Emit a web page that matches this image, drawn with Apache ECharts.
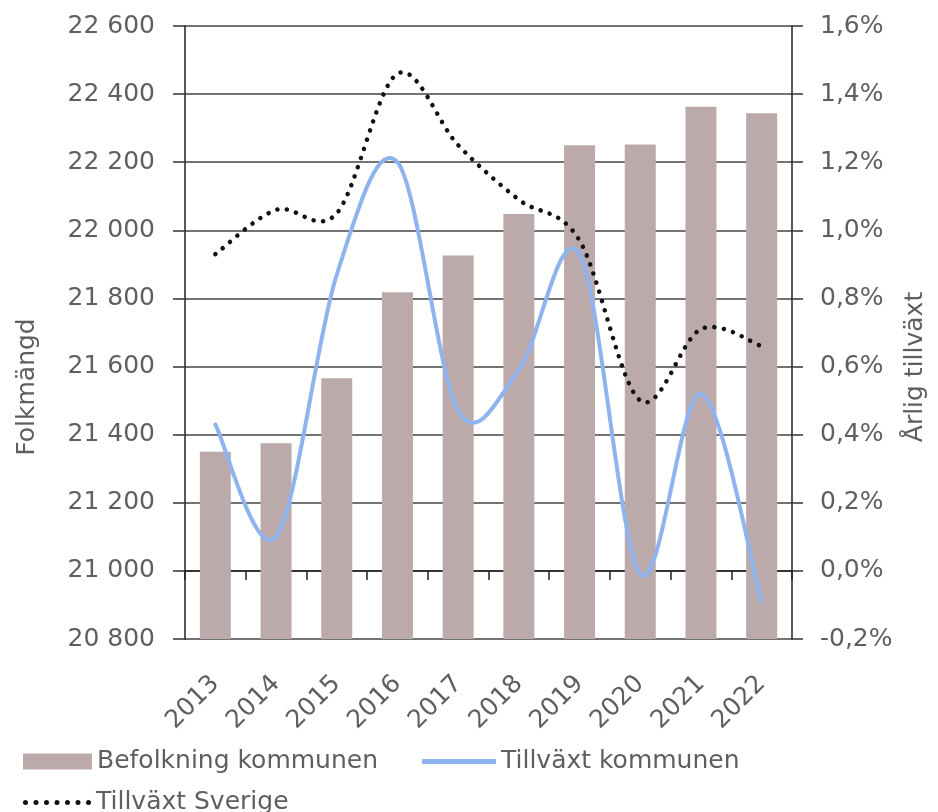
<!DOCTYPE html>
<html>
<head>
<meta charset="utf-8">
<script src="https://cdn.jsdelivr.net/npm/echarts@6/dist/echarts.min.js"></script>
<style>
html,body{margin:0;padding:0;background:#fff;}
#chart{width:938px;height:812px;}
</style>
</head>
<body>
<div id="chart"></div>
<script>
const years = ['2013','2014','2015','2016','2017','2018','2019','2020','2021','2022'];
const befolkning = [21350, 21375, 21566, 21818, 21926, 22048, 22250, 22252, 22363, 22344];
const tillvaxtKommunen = [0.43, 0.10, 0.87, 1.20, 0.47, 0.59, 0.93, -0.01, 0.52, -0.09];
const tillvaxtSverige = [0.93, 1.06, 1.05, 1.46, 1.25, 1.09, 0.97, 0.50, 0.71, 0.66];
const leftName = 'Folkmängd';
const rightName = 'Årlig tillväxt';
const legendNames = ['Befolkning kommunen', 'Tillväxt kommunen', 'Tillväxt Sverige'];

const FONT = 'DejaVu Sans';
const TXT = '#5f5f5f';
const FS = 25;

// Excel-like smoothed line (Catmull-Rom as cubic Bezier), built from points
// mapped through the chart's own axes with api.coord.
function smoothRender(values, styleObj) {
  return function (params, api) {
    if (params.dataIndex !== 0) return;
    const p = values.map((v, i) => api.coord([i, v]));
    const n = p.length;
    let d = 'M' + p[0][0] + ',' + p[0][1];
    for (let i = 0; i < n - 1; i++) {
      const p0 = p[Math.max(i - 1, 0)], p1 = p[i], p2 = p[i + 1], p3 = p[Math.min(i + 2, n - 1)];
      const c1x = p1[0] + (p2[0] - p0[0]) / 6, c1y = p1[1] + (p2[1] - p0[1]) / 6;
      const c2x = p2[0] - (p3[0] - p1[0]) / 6, c2y = p2[1] - (p3[1] - p1[1]) / 6;
      d += ' C' + c1x + ',' + c1y + ' ' + c2x + ',' + c2y + ' ' + p2[0] + ',' + p2[1];
    }
    return {type: 'path', shape: {pathData: d}, style: styleObj};
  };
}

function dotsIcon() {
  let s = 'path://';
  const r = 2.5;
  for (let k = 0; k < 7; k++) {
    const cx = r + 10.5 * k, cy = r;
    s += 'M' + (cx - r) + ',' + cy + 'A' + r + ',' + r + ' 0 1,0 ' + (cx + r) + ',' + cy +
         'A' + r + ',' + r + ' 0 1,0 ' + (cx - r) + ',' + cy + 'Z';
  }
  return s;
}

const legendText = {fontFamily: FONT, fontSize: FS, color: TXT};

const chart = echarts.init(document.getElementById('chart'), null, {renderer: 'canvas'});
chart.setOption({
  backgroundColor: '#fff',
  animation: false,
  textStyle: {fontFamily: FONT},
  grid: {left: 185, right: 146, top: 26, bottom: 173, containLabel: false},
  legend: [
    {data: [{name: legendNames[0], icon: 'rect'}], left: 23, top: 749, padding: 0,
     itemWidth: 69, itemHeight: 16, textStyle: legendText, selectedMode: false},
    {data: [{name: legendNames[1], icon: 'rect'}], left: 422, top: 749, padding: 0,
     itemWidth: 74, itemHeight: 5, textStyle: legendText, selectedMode: false},
    {data: [{name: legendNames[2], icon: dotsIcon()}], left: 23, top: 790, padding: 0,
     itemWidth: 68, itemHeight: 5, textStyle: legendText, selectedMode: false}
  ],
  graphic: [
    {type: 'text', x: 27, y: 387, rotation: Math.PI / 2,
     style: {text: leftName, fontFamily: FONT, fontSize: FS, fill: TXT, textAlign: 'center', textVerticalAlign: 'middle'}},
    {type: 'text', x: 915, y: 367, rotation: Math.PI / 2,
     style: {text: rightName, fontFamily: FONT, fontSize: FS, fill: TXT, textAlign: 'center', textVerticalAlign: 'middle'}}
  ],
  xAxis: {
    type: 'category',
    data: years,
    boundaryGap: true,
    axisLine: {lineStyle: {color: '#222', width: 1.5}},
    axisTick: {show: true, length: 9, lineStyle: {color: '#222', width: 1.5}},
    axisLabel: {rotate: 45, margin: 41, fontFamily: FONT, fontSize: FS, color: TXT, interval: 0}
  },
  yAxis: [
    {
      type: 'value', min: 20800, max: 22600, interval: 200,
      axisLine: {show: true, lineStyle: {color: '#222', width: 1.5}},
      axisTick: {show: true, length: 12, lineStyle: {color: '#333', width: 1.5}},
      splitLine: {show: true, lineStyle: {color: '#444', width: 1.5}},
      axisLabel: {
        margin: 30, fontFamily: FONT, fontSize: FS, color: TXT,
        formatter: v => String(v).replace(/\B(?=(\d{3})+(?!\d))/g, ' ')
      }
    },
    {
      type: 'value', min: -0.2, max: 1.6, interval: 0.2, position: 'right',
      axisLine: {show: true, lineStyle: {color: '#222', width: 1.5}},
      axisTick: {show: true, length: 11, lineStyle: {color: '#333', width: 1.5}},
      splitLine: {show: false},
      axisLabel: {
        margin: 28, fontFamily: FONT, fontSize: FS, color: TXT,
        formatter: v => (Math.round(v * 10) / 10).toFixed(1).replace('.', ',') + '%'
      }
    }
  ],
  series: [
    {
      name: legendNames[0], type: 'bar', yAxisIndex: 0,
      data: befolkning, barWidth: 31, z: 2,
      itemStyle: {color: '#bcaaab'}
    },
    {
      name: legendNames[1], type: 'custom', yAxisIndex: 1, z: 3,
      data: tillvaxtKommunen.map((v, i) => [i, v]),
      itemStyle: {color: '#8db4ee'},
      renderItem: smoothRender(tillvaxtKommunen,
        {fill: null, stroke: '#8db4ee', lineWidth: 4, lineJoin: 'round', lineCap: 'round'})
    },
    {
      name: legendNames[2], type: 'custom', yAxisIndex: 1, z: 4,
      data: tillvaxtSverige.map((v, i) => [i, v]),
      itemStyle: {color: '#111'},
      renderItem: smoothRender(tillvaxtSverige,
        {fill: null, stroke: '#111', lineWidth: 4.5, lineDash: [0.1, 9.5], lineCap: 'round'})
    }
  ]
});
</script>
</body>
</html>
